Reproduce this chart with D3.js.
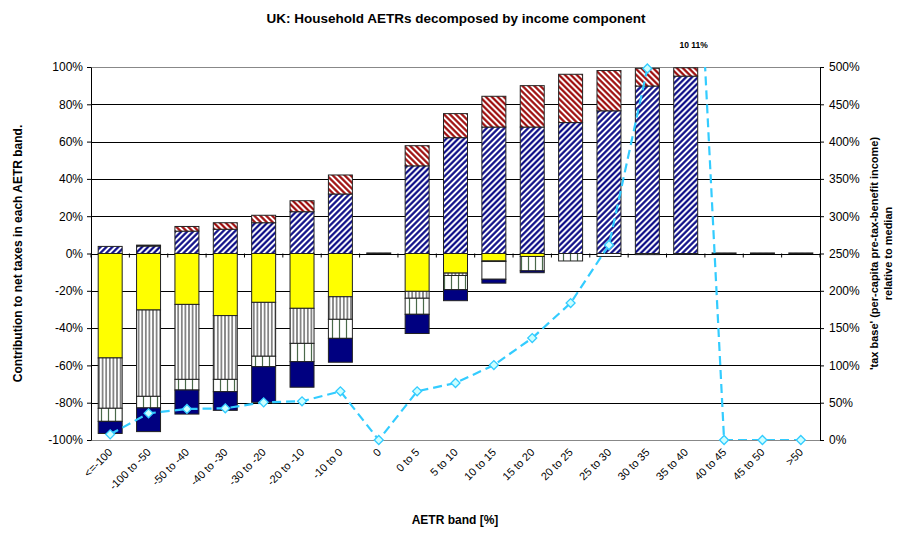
<!DOCTYPE html>
<html>
<head>
<meta charset="utf-8">
<script src="https://cdn.jsdelivr.net/npm/d3@7"></script>
<style>
body { margin: 0; background: #fff; }
text { font-family: "Liberation Sans", Arial, sans-serif; fill: #000; }
</style>
</head>
<body>
<svg width="897" height="533"></svg>
<script>
const categories = ["<=-100", "-100 to -50", "-50 to -40", "-40 to -30", "-30 to -20", "-20 to -10", "-10 to 0", "0",
    "0 to 5", "5 to 10", "10 to 15", "15 to 20", "20 to 25", "25 to 30", "30 to 35", "35 to 40", "40 to 45", "45 to 50", ">50"]

// contributions to net taxes, % (positive components)
const blueHatch = [3.8, 4.0, 12.0, 13.0, 16.5, 22.4, 31.9, 0.3, 47.0, 62.1, 67.8, 67.8, 70.2, 76.5, 89.8, 95.1, 0.3, 0.3, 0.3]
const redHatch = [0, 0.5, 2.5, 3.5, 4.0, 5.9, 10.2, 0, 10.8, 12.9, 16.5, 22.2, 25.9, 21.6, 9.5, 4.5, 0, 0, 0]
// negative components
const yellow = [-56.0, -30.3, -27.3, -33.3, -26.2, -29.4, -23.2, 0, -20.3, -10.5, -4.0, -1.6, 0, 0, 0, 0, 0, 0, 0]
const denseStripes = [-27.0, -46.3, -40.2, -34.2, -28.9, -18.8, -12.1, 0, -3.7, -1.3, -0.3, 0, 0, 0, 0, 0, 0, 0, 0]
const lightStripes = [-7.0, -6.2, -5.7, -6.6, -5.6, -9.8, -10.2, 0, -8.6, -7.6, 0, -7.7, -4.0, 0, -0.6, 0, 0, 0, 0]
const blank = [0, 0, 0, 0, 0, 0, 0, 0, 0, 0, -9.5, 0, 0, -1.6, 0, 0, 0, 0, 0]
const navy = [-6.5, -12.7, -12.9, -10.0, -19.1, -13.7, -12.8, 0, -10.3, -5.9, -2.1, -1.0, 0, 0, 0, -0.4, 0, 0, 0]

// 'tax base' relative to median, % (right axis)
const taxBase = [7.6, 35.8, 41.6, 42.5, 50.5, 51.9, 65.3, 0, 65.3, 76.4, 100.5, 136.7, 183.6, 261.4, 498, 1011, 0, 0, 0]

const leftTicks = d3.range(-100, 101, 20)
const rightTicks = d3.range(0, 501, 50)

const keys = ["blueHatch", "redHatch", "yellow", "denseStripes", "lightStripes", "blank", "navy"]
const seriesData = { blueHatch, redHatch, yellow, denseStripes, lightStripes, blank, navy }
const table = categories.map((c, i) => {
    const row = { cat: c }
    keys.forEach(k => { row[k] = seriesData[k][i] })
    return row
})

const svg = d3.select("svg")
const plot = { left: 91, right: 820, top: 67, bottom: 440 }

const x = d3.scaleBand().domain(categories).range([plot.left, plot.right])
    .paddingInner(0.375).paddingOuter(0.1875)
const y = d3.scaleLinear().domain([-100, 100]).range([plot.bottom, plot.top])
const y2 = d3.scaleLinear().domain([0, 500]).range([plot.bottom, plot.top])

const defs = svg.append("defs")
function stripes(id, color, width, lineWidth, angle) {
    const p = defs.append("pattern")
        .attr("id", id)
        .attr("patternUnits", "userSpaceOnUse")
        .attr("width", width).attr("height", 10)
        .attr("patternTransform", `rotate(${angle})`)
    p.append("rect").attr("width", width).attr("height", 10).attr("fill", "#fff")
    p.append("line")
        .attr("x1", width / 2).attr("x2", width / 2)
        .attr("y1", 0).attr("y2", 10)
        .attr("stroke", color).attr("stroke-width", lineWidth)
}
stripes("p-blue", "#000080", 4.2, 2.1, 45)
stripes("p-red", "#990000", 4.2, 2.1, -45)
stripes("p-dense", "#222", 3.6, 1, 0)
stripes("p-light", "#4a6a4a", 7, 1.2, 0)

defs.append("clipPath").attr("id", "clip")
    .append("rect")
    .attr("x", plot.left).attr("y", plot.top)
    .attr("width", plot.right - plot.left).attr("height", plot.bottom - plot.top)

const fills = {
    blueHatch: "url(#p-blue)",
    redHatch: "url(#p-red)",
    yellow: "#ffff00",
    denseStripes: "url(#p-dense)",
    lightStripes: "url(#p-light)",
    blank: "#fff",
    navy: "#000080"
}

// gridlines
svg.append("g").selectAll("line")
    .data(leftTicks)
    .join("line")
    .attr("x1", plot.left).attr("x2", plot.right)
    .attr("y1", d => Math.round(y(d)) + 0.5).attr("y2", d => Math.round(y(d)) + 0.5)
    .attr("stroke", d => (d === 100 || d === -100) ? "#888" : "#000")
    .attr("stroke-width", 1)

// stacked bars
const stack = d3.stack().keys(keys).offset(d3.stackOffsetDiverging)
const series = stack(table)

svg.append("g").selectAll("g")
    .data(series)
    .join("g")
    .attr("fill", d => fills[d.key])
    .selectAll("rect")
    .data(d => d.filter(p => p[1] !== p[0]))
    .join("rect")
    .attr("x", d => x(d.data.cat))
    .attr("width", x.bandwidth())
    .attr("y", d => y(Math.max(d[0], d[1])))
    .attr("height", d => Math.abs(y(d[0]) - y(d[1])))
    .attr("stroke", "#222")
    .attr("stroke-width", 1)

// category tick marks on the zero line
svg.append("g").selectAll("line")
    .data(d3.range(categories.length + 1))
    .join("line")
    .attr("x1", i => plot.left + i * x.step()).attr("x2", i => plot.left + i * x.step())
    .attr("y1", y(0)).attr("y2", y(0) + 4)
    .attr("stroke", "#000")

// left axis
const leftAxis = svg.append("g")
    .attr("transform", `translate(${plot.left},0)`)
    .call(d3.axisLeft(y).tickValues(leftTicks).tickSize(4).tickSizeOuter(0).tickPadding(4)
        .tickFormat(d => d + "%"))
leftAxis.selectAll("text").attr("font-size", 12)
leftAxis.select(".domain").attr("stroke", "#000")

// right axis
const rightAxis = svg.append("g")
    .attr("transform", `translate(${plot.right},0)`)
    .call(d3.axisRight(y2).tickValues(rightTicks).tickSize(4).tickSizeOuter(0).tickPadding(5)
        .tickFormat(d => d + "%"))
rightAxis.selectAll("text").attr("font-size", 12)
rightAxis.select(".domain").attr("stroke", "#000")

// category labels
svg.append("g").selectAll("text")
    .data(categories)
    .join("text")
    .attr("transform", d => `translate(${x(d) + x.bandwidth() / 2 + 3},${plot.bottom + 13}) rotate(-45)`)
    .attr("text-anchor", "end")
    .attr("font-size", 11)
    .text(d => d)

// tax base line
const cx = d => x(d) + x.bandwidth() / 2
const linePts = categories.map((c, i) => ({ cat: c, v: taxBase[i] }))
const lineLayer = svg.append("g").attr("clip-path", "url(#clip)")
lineLayer.append("path")
    .datum(linePts)
    .attr("d", d3.line().x(d => cx(d.cat)).y(d => y2(d.v)))
    .attr("fill", "none")
    .attr("stroke", "#33ccff")
    .attr("stroke-width", 2.2)
    .attr("stroke-dasharray", "9,5")

svg.append("g").selectAll("path")
    .data(linePts.filter(d => d.v <= 500))
    .join("path")
    .attr("d", d3.symbol(d3.symbolSquare, 40))
    .attr("transform", d => `translate(${cx(d.cat)},${y2(d.v)}) rotate(45)`)
    .attr("fill", "#ccffff")
    .attr("stroke", "#33ccff")
    .attr("stroke-width", 1.3)

// off-scale data label
svg.append("text")
    .attr("x", cx("35 to 40") + 8).attr("y", 48)
    .attr("text-anchor", "middle")
    .attr("font-size", 8.5).attr("font-weight", "bold")
    .text("10 11%")

// titles
svg.append("text")
    .attr("x", 456).attr("y", 23)
    .attr("text-anchor", "middle")
    .attr("font-size", 13.5).attr("font-weight", "bold")
    .text("UK: Household AETRs decomposed by income component")

svg.append("text")
    .attr("transform", `translate(22,${y(0)}) rotate(-90)`)
    .attr("text-anchor", "middle")
    .attr("font-size", 12).attr("font-weight", "bold")
    .text("Contribution to net taxes in each AETR band.")

const rightTitle = svg.append("text")
    .attr("transform", `translate(878,${y(0)}) rotate(-90)`)
    .attr("text-anchor", "middle")
    .attr("font-size", 11).attr("font-weight", "bold")
rightTitle.append("tspan").attr("x", 0).attr("dy", 0).text("'tax base' (per-capita pre-tax-benefit income)")
rightTitle.append("tspan").attr("x", 0).attr("dy", 14).text("relative to median")

svg.append("text")
    .attr("x", 455).attr("y", 524)
    .attr("text-anchor", "middle")
    .attr("font-size", 12).attr("font-weight", "bold")
    .text("AETR band [%]")
</script>
</body>
</html>
